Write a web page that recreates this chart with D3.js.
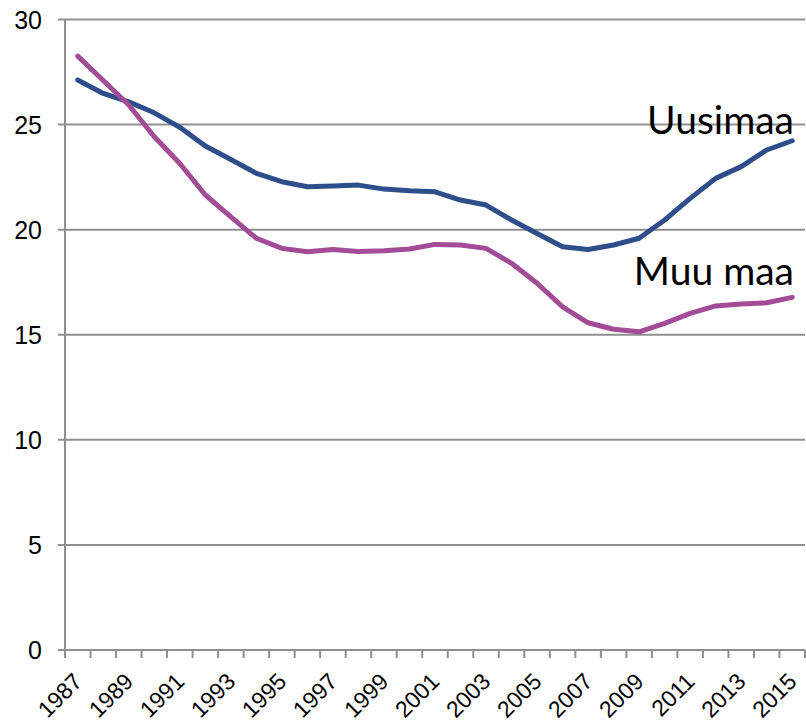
<!DOCTYPE html>
<html lang="fi">
<head>
<meta charset="UTF-8" />
<title>Uusimaa / Muu maa</title>
<script src="https://d3js.org/d3.v7.min.js"></script>
<style>
    body { margin: 0; background: #fff; }
    svg { display: block; }
</style>
</head>
<body>
<svg id="chart"></svg>
<script>
    const years = d3.range(1987, 2016).map(String);
    const uusimaa = [27.12, 26.48, 26.08, 25.56, 24.87, 23.98, 23.34, 22.68, 22.28, 22.04,
        22.08, 22.12, 21.93, 21.85, 21.8, 21.41, 21.17, 20.46, 19.82, 19.19,
        19.06, 19.27, 19.59, 20.46, 21.49, 22.44, 23.0, 23.79, 24.23];
    const muuMaa = [28.26, 27.1, 25.93, 24.42, 23.15, 21.65, 20.61, 19.59, 19.11, 18.95,
        19.06, 18.96, 19.0, 19.08, 19.3, 19.27, 19.11, 18.4, 17.45, 16.33,
        15.57, 15.26, 15.14, 15.54, 16.02, 16.37, 16.46, 16.52, 16.78];
    const yTicks = [0, 5, 10, 15, 20, 25, 30];

    const series = [
        { name: "Uusimaa", values: uusimaa, color: "#2d4e8a", labelY: 134 },
        { name: "Muu maa", values: muuMaa, color: "#a24b97", labelY: 285 }
    ];

    const width = 806, height = 724;
    const margin = { top: 19.5, right: 1, bottom: 74, left: 65 };

    const svg = d3.select("#chart").attr("width", width).attr("height", height);

    const x = d3.scaleBand()
        .domain(years)
        .range([margin.left, width - margin.right]);

    const y = d3.scaleLinear()
        .domain([0, 30])
        .range([height - margin.bottom, margin.top]);

    const grid = "#8f8f8f";

    // horizontal gridlines + left ticks
    svg.append("g")
        .selectAll("line")
        .data(yTicks)
        .join("line")
        .attr("x1", margin.left - 7)
        .attr("x2", width - margin.right)
        .attr("y1", d => y(d))
        .attr("y2", d => y(d))
        .attr("stroke", grid)
        .attr("stroke-width", 2);

    svg.append("g")
        .attr("font-family", "'Liberation Sans', Arial, sans-serif")
        .attr("font-size", 25)
        .attr("text-anchor", "end")
        .selectAll("text")
        .data(yTicks)
        .join("text")
        .attr("x", 42)
        .attr("y", d => y(d))
        .attr("dy", "0.36em")
        .attr("fill", "#000")
        .text(d => d);

    // y axis line
    svg.append("line")
        .attr("x1", margin.left).attr("x2", margin.left)
        .attr("y1", y(30)).attr("y2", y(0))
        .attr("stroke", grid)
        .attr("stroke-width", 2);

    // x ticks at category boundaries
    const bounds = years.map(d => x(d)).concat([x(years[years.length - 1]) + x.bandwidth()]);
    svg.append("g")
        .selectAll("line")
        .data(bounds)
        .join("line")
        .attr("x1", d => d).attr("x2", d => d)
        .attr("y1", y(0)).attr("y2", y(0) + 8)
        .attr("stroke", grid)
        .attr("stroke-width", 2);

    svg.append("g")
        .attr("font-family", "'Liberation Sans', Arial, sans-serif")
        .attr("font-size", 23)
        .attr("text-anchor", "end")
        .selectAll("text")
        .data(years.filter((d, i) => i % 2 === 0))
        .join("text")
        .attr("transform", d => `translate(${x(d) + x.bandwidth() / 2},${y(0) + 27}) rotate(-45)`)
        .attr("dy", "0.36em")
        .attr("fill", "#000")
        .text(d => d);

    const line = d3.line()
        .x((d, i) => x(years[i]) + x.bandwidth() / 2)
        .y(d => y(d));

    svg.append("g")
        .selectAll("path")
        .data(series)
        .join("path")
        .attr("fill", "none")
        .attr("stroke", d => d.color)
        .attr("stroke-width", 5)
        .attr("stroke-linejoin", "round")
        .attr("stroke-linecap", "round")
        .attr("d", d => line(d.values));

    svg.append("g")
        .attr("font-family", "Lato, 'Open Sans', sans-serif")
        .attr("font-size", 39)
        .attr("text-anchor", "end")
        .selectAll("text")
        .data(series)
        .join("text")
        .attr("x", 794)
        .attr("y", d => d.labelY)
        .attr("fill", "#000")
        .text(d => d.name);
</script>
</body>
</html>
